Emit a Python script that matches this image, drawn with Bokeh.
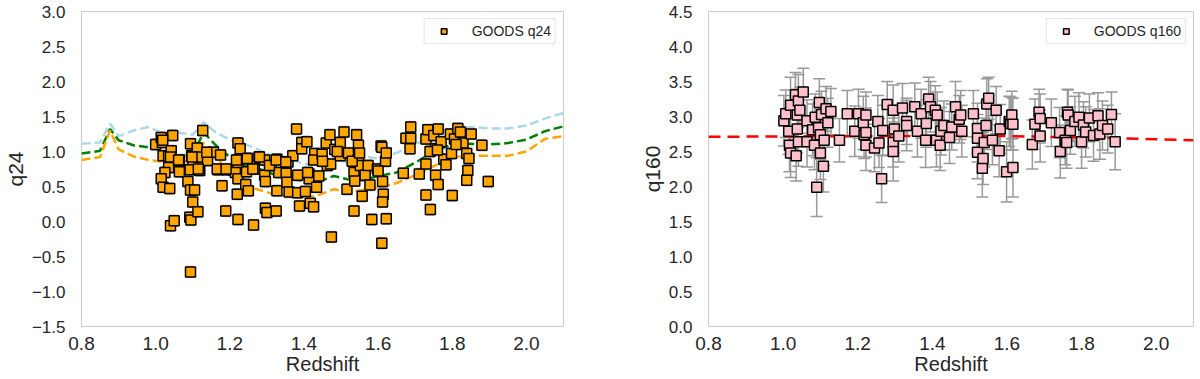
from bokeh.plotting import figure
from bokeh.layouts import row
from bokeh.models import (ColumnDataSource, Whisker, TeeHead, Legend, LegendItem,
                          FixedTicker, Range1d, CustomJSTickFormatter)
from bokeh.embed import file_html
from bokeh.resources import INLINE

# ---------------- data: left panel (q24) ----------------
z24 = [1.000, 1.015, 1.018, 1.046, 1.020, 1.035, 1.042, 1.035, 1.025, 1.015,
       1.020, 1.038, 1.040, 1.050, 1.064, 1.064, 1.087, 1.094, 1.097, 1.100,
       1.094, 1.105, 1.100, 1.092, 1.095, 1.114, 1.094, 1.112, 1.117, 1.119,
       1.127, 1.140, 1.140, 1.156, 1.175, 1.168, 1.179, 1.189, 1.192, 1.207,
       1.222, 1.228, 1.222, 1.222, 1.215, 1.222, 1.220, 1.222, 1.243, 1.248,
       1.245, 1.250, 1.264, 1.266, 1.279, 1.294, 1.294, 1.296, 1.296, 1.300,
       1.312, 1.327, 1.327, 1.325, 1.332, 1.352, 1.354, 1.360, 1.357, 1.370,
       1.380, 1.383, 1.383, 1.388, 1.394, 1.394, 1.408, 1.404, 1.414, 1.414,
       1.417, 1.426, 1.429, 1.426, 1.434, 1.440, 1.449, 1.460, 1.463, 1.470,
       1.472, 1.474, 1.483, 1.498, 1.498, 1.508, 1.516, 1.520, 1.535, 1.537,
       1.535, 1.542, 1.547, 1.547, 1.552, 1.557, 1.565, 1.573, 1.578, 1.583,
       1.598, 1.608, 1.610, 1.610, 1.612, 1.614, 1.612, 1.620, 1.622, 1.622,
       1.668, 1.675, 1.688, 1.688, 1.686, 1.711, 1.729, 1.729, 1.729, 1.734,
       1.741, 1.750, 1.755, 1.755, 1.762, 1.762, 1.770, 1.777, 1.783, 1.795,
       1.798, 1.800, 1.806, 1.815, 1.822, 1.829, 1.839, 1.842, 1.839, 1.845,
       1.851, 1.880, 1.897, 1.019, 1.040, 1.062, 1.098, 1.093, 1.115, 1.138,
       1.166, 1.190, 1.218, 1.247, 1.262, 1.280, 1.307, 1.325, 1.351, 1.410,
       1.530, 1.550, 1.600, 1.740, 1.760, 1.810, 1.490, 1.450]
q24 = [1.10, 1.20, 1.13, 1.23, 0.94, 0.93, 1.01, 0.77, 0.70, 0.61,
       0.49, 0.47, -0.06, 0.01, 0.87, 0.71, 0.57, 1.11, 0.94, 0.82,
       0.45, 0.45, 0.28, 0.06, 0.02, 0.14, -0.72, 1.05, 0.92, 0.73,
       1.30, 0.97, 0.87, 0.99, 0.95, 0.74, 0.51, 0.15, 0.74, 0.74,
       1.12, 1.04, 0.88, 0.77, 0.70, 0.61, 0.39, 0.03, 0.53, 0.90,
       0.71, 0.44, -0.05, 0.75, 0.92, 0.88, 0.66, 0.57, 0.19, 0.13,
       0.80, 0.89, 0.44, 0.15, 0.70, 0.69, 0.56, 0.42, 0.85, 0.94,
       1.32, 0.66, 0.41, 0.22, 1.13, 1.04, 1.14, 0.43, 0.68, 0.61,
       0.26, 0.21, 0.97, 0.88, 0.49, 0.65, 0.96, 1.12, 0.80, 1.24,
       0.82, -0.22, 1.03, 1.13, 0.94, 1.28, 0.46, 0.98, 0.70, 0.58,
       0.15, 1.24, 1.09, 0.89, 0.80, 0.36, 0.66, 0.80, 0.52, 0.03,
       0.75, 1.08, 1.06, -0.31, 0.57, 0.39, 0.28, 0.86, 0.98, 0.04,
       0.69, 1.19, 1.35, 1.19, 1.04, 0.68, 0.82, 1.18, 0.38, 1.31,
       0.17, 1.23, 0.66, 1.04, 0.53, 1.32, 1.14, 0.89, 0.81, 1.25,
       0.97, 0.37, 1.18, 1.33, 1.28, 1.12, 0.97, 0.73, 0.59, 0.90,
       1.25, 1.09, 0.57, 1.16, 0.92, 0.88, 0.92, 0.74, 0.75, 0.99,
       0.75, 0.75, 0.88, 0.90, 0.75, 0.92, 0.80, 0.88, 0.85, 0.70,
       0.86, 0.98, 0.72, 1.00, 1.02, 1.10, 1.00, 0.86]
q24_err = 0.08

z_model = [0.80, 0.85, 0.877, 0.90, 0.94, 0.98, 1.02, 1.06, 1.10, 1.13, 1.16,
           1.20, 1.24, 1.28, 1.32, 1.36, 1.40, 1.44, 1.48, 1.52, 1.56, 1.60,
           1.65, 1.70, 1.75, 1.80, 1.85, 1.90, 1.95, 2.00, 2.05, 2.10]
q_lightblue = [1.11, 1.13, 1.40, 1.22, 1.30, 1.35, 1.26, 1.27, 1.24, 1.42, 1.28,
               1.17, 1.11, 1.02, 0.93, 0.90, 0.82, 0.81, 0.88, 0.85, 0.93, 0.90,
               0.98, 1.10, 1.24, 1.33, 1.35, 1.33, 1.33, 1.37, 1.47, 1.55]
q_green = [0.97, 1.01, 1.32, 1.16, 1.09, 1.06, 1.01, 0.93, 0.97, 1.27, 1.10,
           0.92, 0.80, 0.75, 0.67, 0.61, 0.58, 0.57, 0.65, 0.60, 0.59, 0.65,
           0.70, 0.84, 1.00, 1.10, 1.11, 1.10, 1.12, 1.17, 1.29, 1.36]
q_orange = [0.88, 0.92, 1.30, 1.03, 0.93, 0.88, 0.85, 0.82, 0.90, 1.12, 0.97,
            0.66, 0.52, 0.45, 0.39, 0.36, 0.33, 0.38, 0.46, 0.42, 0.45, 0.48,
            0.55, 0.66, 0.79, 0.92, 0.94, 0.94, 0.94, 1.00, 1.18, 1.22]

# ---------------- data: right panel (q160) ----------------
z160 = [1.002, 1.007, 1.020, 1.015, 1.017, 1.020, 1.033, 1.038, 1.038, 1.035,
        1.041, 1.041, 1.045, 1.054, 1.064, 1.064, 1.079, 1.084, 1.086, 1.090,
        1.095, 1.097, 1.100, 1.100, 1.103, 1.108, 1.110, 1.115, 1.120, 1.128,
        1.151, 1.172, 1.192, 1.202, 1.215, 1.217, 1.222, 1.222, 1.222, 1.245,
        1.254, 1.257, 1.264, 1.267, 1.279, 1.295, 1.295, 1.295, 1.298, 1.310,
        1.320, 1.331, 1.331, 1.353, 1.360, 1.370, 1.382, 1.384, 1.390, 1.395,
        1.408, 1.413, 1.411, 1.421, 1.423, 1.431, 1.446, 1.452, 1.462, 1.472,
        1.476, 1.479, 1.510, 1.521, 1.521, 1.521, 1.534, 1.536, 1.539, 1.544,
        1.546, 1.551, 1.561, 1.571, 1.579, 1.582, 1.599, 1.606, 1.610, 1.613,
        1.616, 1.616, 1.668, 1.675, 1.686, 1.689, 1.689, 1.719, 1.741, 1.743,
        1.756, 1.762, 1.764, 1.760, 1.770, 1.782, 1.793, 1.800, 1.805, 1.811,
        1.821, 1.832, 1.844, 1.849, 1.856, 1.870, 1.880, 1.890]
q160 = [2.94, 3.04, 3.16, 2.79, 2.59, 2.48, 3.31, 3.02, 2.82, 2.44,
        2.64, 3.22, 3.09, 3.35, 2.94, 2.64, 2.81, 2.59, 2.99, 1.99,
        2.84, 3.20, 2.74, 2.48, 3.03, 2.29, 2.66, 3.11, 2.91, 3.07,
        2.66, 3.04, 2.79, 3.04, 2.91, 2.74, 3.02, 2.59, 2.77, 2.55,
        2.93, 2.62, 2.11, 2.80, 3.17, 3.09, 2.63, 2.50, 2.82, 2.72,
        3.12, 2.93, 2.87, 3.14, 2.79, 3.04, 2.66, 2.90, 3.25, 3.14,
        3.09, 3.02, 2.66, 2.59, 2.79, 2.87, 2.70, 2.85, 3.14, 2.96,
        3.02, 2.79, 3.04, 2.83, 2.69, 2.49, 2.26, 2.40, 2.63, 2.87,
        3.18, 3.26, 2.66, 3.09, 2.51, 2.82, 2.21, 2.93, 2.90, 3.02,
        2.27, 2.89, 2.60, 2.89, 3.06, 2.97, 2.72, 2.91, 2.77, 2.50,
        2.66, 3.06, 3.02, 2.63, 2.80, 2.93, 2.99, 2.64, 2.88, 2.78,
        2.98, 2.73, 3.01, 2.75, 2.87, 2.82, 3.03, 2.64]
e160 = [0.36, 0.34, 0.40, 0.33, 0.38, 0.35, 0.32, 0.37, 0.34, 0.36,
        0.35, 0.38, 0.33, 0.34, 0.30, 0.36, 0.37, 0.35, 0.33, 0.42,
        0.36, 0.34, 0.35, 0.38, 0.33, 0.37, 0.36, 0.32, 0.35, 0.33,
        0.31, 0.33, 0.36, 0.35, 0.38, 0.34, 0.33, 0.36, 0.35, 0.34,
        0.37, 0.35, 0.34, 0.36, 0.33, 0.36, 0.35, 0.42, 0.34, 0.37,
        0.35, 0.33, 0.36, 0.34, 0.37, 0.35, 0.39, 0.34, 0.31, 0.36,
        0.35, 0.33, 0.38, 0.36, 0.34, 0.35, 0.37, 0.33, 0.36, 0.34,
        0.35, 0.37, 0.33, 0.36, 0.34, 0.38, 0.41, 0.37, 0.35, 0.34,
        0.36, 0.30, 0.35, 0.34, 0.37, 0.35, 0.43, 0.36, 0.38, 0.34,
        0.42, 0.37, 0.35, 0.36, 0.33, 0.35, 0.37, 0.34, 0.36, 0.38,
        0.35, 0.33, 0.36, 0.37, 0.34, 0.36, 0.35, 0.38, 0.33, 0.36,
        0.34, 0.37, 0.33, 0.36, 0.35, 0.34, 0.32, 0.40]

z_red = [0.80, 1.20, 1.60, 1.90, 2.10]
q_red = [2.71, 2.72, 2.72, 2.69, 2.66]

x_ticks = [0.8, 1.0, 1.2, 1.4, 1.6, 1.8, 2.0]
y_ticks_24 = [-1.5, -1.0, -0.5, 0.0, 0.5, 1.0, 1.5, 2.0, 2.5, 3.0]
y_ticks_160 = [0.0, 0.5, 1.0, 1.5, 2.0, 2.5, 3.0, 3.5, 4.0, 4.5]

FONT = "Liberation Sans"
TXT = "#262626"
fmt_code = "return tick.toFixed(1).replace('-', '\u2212');"


def make_fig(width, border_left, border_right, yr, yticks, ylabel):
    p = figure(width=width, height=379, x_range=Range1d(0.8, 2.1), y_range=Range1d(*yr),
               output_backend="svg", toolbar_location=None,
               min_border_left=border_left, min_border_right=border_right,
               min_border_top=11, min_border_bottom=53)
    p.title.visible = False
    p.outline_line_color = "#cccccc"
    p.outline_line_width = 1
    p.xgrid.visible = False
    p.ygrid.visible = False
    p.background_fill_color = "white"
    p.border_fill_color = "white"
    for ax in (p.xaxis[0], p.yaxis[0]):
        ax.axis_line_color = None
        ax.major_tick_line_color = None
        ax.minor_tick_line_color = None
        ax.major_label_text_font = FONT
        ax.major_label_text_color = TXT
        ax.axis_label_text_font = FONT
        ax.axis_label_text_font_style = "normal"
        ax.axis_label_text_color = TXT
        ax.formatter = CustomJSTickFormatter(code=fmt_code)
    p.xaxis[0].ticker = FixedTicker(ticks=x_ticks)
    p.yaxis[0].ticker = FixedTicker(ticks=yticks)
    p.xaxis[0].major_label_text_font_size = "19px"
    p.yaxis[0].major_label_text_font_size = "17px"
    p.xaxis[0].axis_label_text_font_size = "20px"
    p.yaxis[0].axis_label_text_font_size = "21px"
    p.xaxis[0].major_label_standoff = 4
    p.yaxis[0].major_label_standoff = 10
    p.xaxis[0].axis_label_standoff = 0
    p.yaxis[0].axis_label_standoff = 2
    p.xaxis[0].axis_label = "Redshift"
    p.yaxis[0].axis_label = ylabel
    return p


def add_legend(p, label, renderer):
    leg = Legend(items=[LegendItem(label=label, renderers=[renderer])],
                 location="top_right")
    leg.margin = 7
    leg.padding = 4
    leg.spacing = 0
    leg.glyph_width = 30
    leg.glyph_height = 14
    leg.label_height = 14
    leg.label_standoff = 13
    leg.label_text_font = FONT
    leg.label_text_font_size = "14px"
    leg.label_text_color = TXT
    leg.border_line_color = "#cccccc"
    leg.border_line_width = 1
    leg.background_fill_color = "white"
    leg.background_fill_alpha = 1.0
    p.add_layout(leg)


# ---------------- left panel ----------------
p1 = make_fig(600, 77, 37, (-1.5, 3.0), y_ticks_24, "q24")
p1.line(z_model, q_lightblue, line_color="lightblue", line_width=2.5, line_dash="9 4")
p1.line(z_model, q_green, line_color="green", line_width=2.5, line_dash="9 4")
p1.line(z_model, q_orange, line_color="orange", line_width=2.5, line_dash="9 4")
src24 = ColumnDataSource(dict(z=z24, q=q24,
                              lo=[v - q24_err for v in q24],
                              up=[v + q24_err for v in q24]))
p1.add_layout(Whisker(base="z", lower="lo", upper="up", source=src24,
                      line_color="#999999", line_width=1,
                      upper_head=TeeHead(size=8, line_color="#999999", line_width=1),
                      lower_head=TeeHead(size=8, line_color="#999999", line_width=1)))
r24 = p1.scatter("z", "q", source=src24, marker="square", size=10,
                 fill_color="orange", line_color="black", line_width=1.5)
add_legend(p1, "GOODS q24", r24)

# ---------------- right panel ----------------
p2 = make_fig(600, 108, 7, (0.0, 4.5), y_ticks_160, "q160")
p2.line(z_red, q_red, line_color="red", line_width=2.5, line_dash="12 7")
src160 = ColumnDataSource(dict(z=z160, q=q160,
                               lo=[a - b for a, b in zip(q160, e160)],
                               up=[a + b for a, b in zip(q160, e160)]))
p2.add_layout(Whisker(base="z", lower="lo", upper="up", source=src160,
                      line_color="#999999", line_width=1.5,
                      upper_head=TeeHead(size=12, line_color="#999999", line_width=1.5),
                      lower_head=TeeHead(size=12, line_color="#999999", line_width=1.5)))
r160 = p2.scatter("z", "q", source=src160, marker="square", size=10,
                  fill_color="pink", line_color="black", line_width=1.5)
add_legend(p2, "GOODS q160", r160)

layout = row(p1, p2)
open("out.html", "w").write(file_html(layout, INLINE))
